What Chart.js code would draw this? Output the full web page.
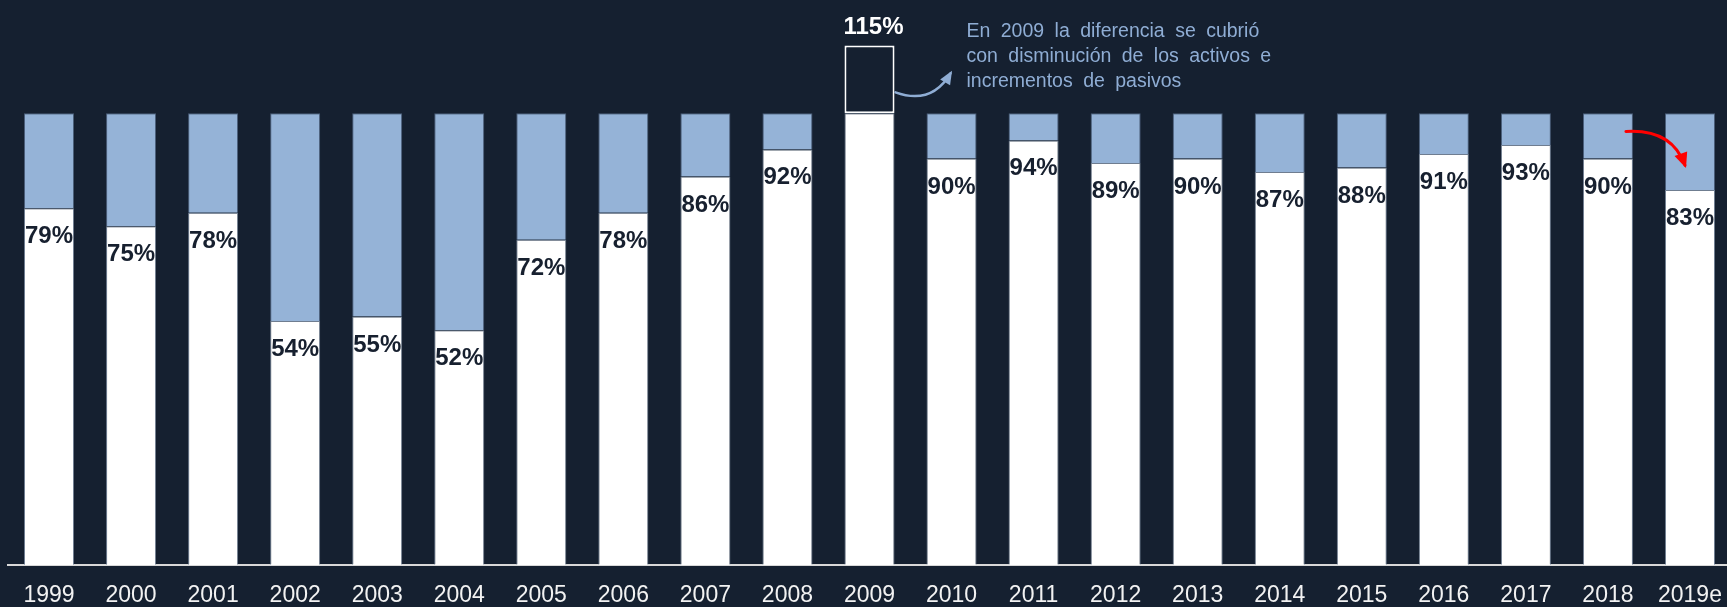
<!DOCTYPE html>
<html>
<head>
<meta charset="utf-8">
<script src="https://cdn.jsdelivr.net/npm/chart.js@4"></script>
<style>
  html, body { margin: 0; padding: 0; background: #152030; overflow: hidden; }
  #wrap { width: 1731px; height: 607px; position: relative; }
</style>
</head>
<body>
<div id="wrap"><canvas id="chart"></canvas></div>
<script>
// ratio per year (%), 2009 went above 100
const years = ['1999', '2000', '2001', '2002', '2003', '2004', '2005', '2006', '2007', '2008', '2009',
               '2010', '2011', '2012', '2013', '2014', '2015', '2016', '2017', '2018', '2019e'];
const ratio = [79, 75, 78, 54, 55, 52, 72, 78, 86, 92, 115, 90, 94, 89, 90, 87, 88, 91, 93, 90, 83];
const note = ['En 2009 la diferencia se cubrió',
              'con disminución de los activos e',
              'incrementos de pasivos'];

const BG = '#152030';
const BLUE = '#95b3d7';
const NAVY = '#17202f';

const covered = ratio.map(v => Math.min(v, 100));
const gap = ratio.map(v => Math.max(0, 100 - v));
const excess = ratio.map(v => v > 100 ? v - 100 : null);

function arrow(ctx, x0, y0, cx, cy, x1, y1, color, lw, head) {
    ctx.save();
    ctx.strokeStyle = color;
    ctx.fillStyle = color;
    ctx.lineWidth = lw;
    ctx.lineCap = 'round';
    ctx.beginPath();
    ctx.moveTo(x0, y0);
    ctx.quadraticCurveTo(cx, cy, x1, y1);
    ctx.stroke();
    const a = Math.atan2(y1 - cy, x1 - cx);
    ctx.beginPath();
    ctx.moveTo(x1 + Math.cos(a) * 3, y1 + Math.sin(a) * 3);
    ctx.lineTo(x1 - Math.cos(a - 0.5) * head, y1 - Math.sin(a - 0.5) * head);
    ctx.lineTo(x1 - Math.cos(a + 0.5) * head, y1 - Math.sin(a + 0.5) * head);
    ctx.closePath();
    ctx.fill();
    ctx.restore();
}

const barLabels = {
    id: 'barLabels',
    afterDatasetsDraw(chart) {
        const ctx = chart.ctx;
        const base = chart.getDatasetMeta(0).data;
        const top = chart.getDatasetMeta(2).data;
        ctx.save();
        ctx.font = 'bold 24px "Liberation Sans", Arial, sans-serif';
        ctx.textAlign = 'center';
        ctx.textBaseline = 'alphabetic';
        ratio.forEach((v, i) => {
            if (v > 100) {
                ctx.fillStyle = '#ffffff';
                ctx.fillText(v + '%', top[i].x + 4, top[i].y - 12);
            } else {
                ctx.fillStyle = NAVY;
                ctx.fillText(v + '%', base[i].x, base[i].y + 35);
            }
        });
        ctx.restore();
    }
};

const notes = {
    id: 'notes',
    afterDraw(chart) {
        const ctx = chart.ctx;
        const xs = chart.scales.x, ys = chart.scales.y;
        const i09 = years.indexOf('2009');
        const x09 = xs.getPixelForValue(i09);
        const y100 = ys.getPixelForValue(100);

        ctx.save();
        ctx.font = '19.5px "Liberation Sans", Arial, sans-serif';
        ctx.fillStyle = '#8fadd4';
        ctx.textAlign = 'left';
        ctx.textBaseline = 'alphabetic';
        if ('wordSpacing' in ctx) ctx.wordSpacing = '5px';
        note.forEach((t, k) => ctx.fillText(t, x09 + 97, y100 - 76 + k * 24.7));
        ctx.restore();

        // arrow from the 2009 excess box to the note
        arrow(ctx, x09 + 26, y100 - 21, x09 + 62, y100 - 8, x09 + 81, y100 - 40, '#8fadd4', 2.5, 12);

        // red arrow from 2018 to 2019e
        const i18 = years.indexOf('2018');
        const x18 = xs.getPixelForValue(i18);
        const x19 = xs.getPixelForValue(i18 + 1);
        arrow(ctx, x18 + 18, ys.getPixelForValue(96), x19 - 18, ys.getPixelForValue(96.6),
              x19 - 5, ys.getPixelForValue(88.5), '#ff0000', 3, 14);
    }
};

new Chart(document.getElementById('chart'), {
    type: 'bar',
    plugins: [barLabels, notes],
    data: {
        labels: years,
        datasets: [{
            data: covered,
            backgroundColor: '#ffffff',
            borderColor: 'rgba(150,165,185,0.7)',
            borderWidth: 1,
            barPercentage: 0.61,
            categoryPercentage: 1
        }, {
            data: gap,
            backgroundColor: BLUE,
            borderColor: 'rgba(110,135,170,0.6)',
            borderWidth: 1,
            barPercentage: 0.61,
            categoryPercentage: 1
        }, {
            data: excess,
            backgroundColor: BG,
            borderColor: '#ffffff',
            borderWidth: 2,
            borderSkipped: false,
            barPercentage: 0.61,
            categoryPercentage: 1
        }]
    },
    options: {
        responsive: true,
        maintainAspectRatio: false,
        animation: false,
        layout: { padding: { top: 23, left: 8, right: 0, bottom: 0 } },
        plugins: {
            legend: { display: false },
            title: { display: false },
            tooltip: { enabled: false }
        },
        scales: {
            x: {
                stacked: true,
                grid: { display: false, drawTicks: false },
                border: { display: true, color: '#d9d9d9', width: 2 },
                ticks: {
                    color: '#f2f2f2',
                    padding: 17,
                    font: { family: '"Liberation Sans", Arial, sans-serif', size: 23 }
                },
                afterFit: s => {
                    s.height = 42;
                    s.paddingLeft = 0;
                    s.paddingRight = 0;
                }
            },
            y: {
                stacked: true,
                display: false,
                min: 0,
                max: 120
            }
        }
    }
});
</script>
</body>
</html>
